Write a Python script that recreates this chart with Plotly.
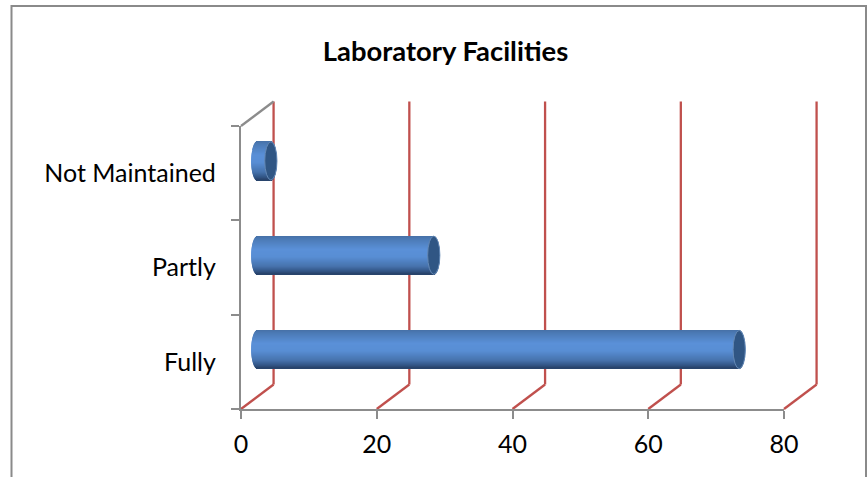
import math
import plotly.graph_objects as go

categories = ["Fully", "Partly", "Not Maintained"]
values = [71, 26, 2]
x_ticks = [0, 20, 40, 60, 80]
title_text = "Laboratory Facilities"

W, H = 868, 477
L, R, T, B = 241, 784, 126, 409
FONT = "Lato"
RED = "#C0504D"
GRAY = "#8C8C8C"

DX = 4.8      # depth of the 3-D box in x units
DY = 0.26     # depth of the 3-D box in category units
BAR_H = 0.405
CAP_A = 0.9   # half width of the elliptical cap in x units
N = 38        # colour bands per cylinder
STOPS = [(0.0, (70, 112, 166)), (0.06, (74, 120, 178)), (0.35, (90, 144, 216)),
         (0.55, (88, 142, 212)), (0.8, (70, 114, 172)), (0.93, (50, 84, 132)),
         (1.0, (38, 64, 102))]
X_MAX = x_ticks[-1]
Y_MIN, Y_MAX = -0.5, 2.5


def band_colour(t):
    for (a, ca), (b, cb) in zip(STOPS, STOPS[1:]):
        if t <= b:
            f = (t - a) / (b - a)
            return "rgb(%d,%d,%d)" % tuple(round(p + (q - p) * f) for p, q in zip(ca, cb))
    return "rgb(%d,%d,%d)" % STOPS[-1][1]


def px(x):   # axis value to paper fraction, so the 3-D walls may leave the plot area
    return x / X_MAX


def py(y):
    return (y - Y_MIN) / (Y_MAX - Y_MIN)


def wall(x0, y0, x1, y1, colour):
    return dict(type="line", xref="paper", yref="paper", layer="below",
                x0=px(x0), y0=py(y0), x1=px(x1), y1=py(y1),
                line=dict(color=colour, width=2.3))


fig = go.Figure()
shapes = []

# back wall gridlines with their floor diagonals
for t in x_ticks:
    shapes.append(wall(t, Y_MIN, t + DX, Y_MIN + DY, RED))
    shapes.append(wall(t + DX, Y_MIN + DY, t + DX, Y_MAX + DY, RED))
# left wall top diagonal
shapes.append(wall(0, Y_MAX, DX, Y_MAX + DY, GRAY))

# cylinders as stacked colour bands
centre = DY / 2
for k in range(N):
    t = (k + 0.5) / N
    u = 2 * t - 1
    bulge = CAP_A * math.sqrt(max(0, 1 - u * u))
    top = centre + BAR_H / 2 - k * BAR_H / N
    fig.add_trace(go.Bar(
        y=categories, x=[v + 2 * bulge for v in values],
        base=[DX / 2 - bulge] * 3,
        orientation="h", width=BAR_H / N * 1.3, offset=top - BAR_H / N * 1.15,
        marker=dict(color=band_colour(t), line=dict(width=0)),
        showlegend=False, hoverinfo="skip"))

for i, v in enumerate(values):
    cx = v + DX / 2
    shapes.append(dict(type="circle", xref="x", yref="y", layer="above",
                       x0=cx - CAP_A, x1=cx + CAP_A,
                       y0=i + centre - BAR_H / 2, y1=i + centre + BAR_H / 2,
                       fillcolor="#305684", line=dict(color="#6488B4", width=1)))
# outer frame of the picture
fx0 = (11.5 - L) / (R - L)
fx1 = (866 - L) / (R - L)
fy1 = (B - 6) / (B - T)
fy0 = (B - 490) / (B - T)
shapes.append(dict(type="rect", xref="paper", yref="paper", layer="below",
                   x0=fx0, x1=fx1, y0=fy0, y1=fy1, line=dict(color="#8A8A8A", width=2)))

fig.update_layout(
    width=W, height=H, barmode="overlay", paper_bgcolor="white", plot_bgcolor="rgba(0,0,0,0)",
    margin=dict(l=L, r=W - R, t=T, b=H - B, pad=0),
    shapes=shapes,
    title=dict(text=title_text, x=445.5 / W, xref="container", xanchor="center",
               y=1 - 51 / H, yref="container", yanchor="middle",
               font=dict(family=FONT, size=27.4, color="black", weight="bold")),
    xaxis=dict(range=[0, X_MAX], tickvals=x_ticks, showgrid=False, zeroline=False,
               showline=True, linecolor=GRAY, linewidth=2.3, ticks="outside", ticklen=8,
               tickwidth=2, tickcolor=GRAY, ticklabelstandoff=4,
               tickfont=dict(family=FONT, size=25, color="black")),
    yaxis=dict(type="category", categoryorder="array", categoryarray=categories,
               range=[Y_MIN, Y_MAX], tickson="boundaries", showgrid=False, zeroline=False,
               showline=True, linecolor=GRAY, linewidth=2.3, ticks="outside", ticklen=8,
               tickwidth=2, tickcolor=GRAY, ticklabelstandoff=18,
               tickfont=dict(family=FONT, size=25, color="black")),
)

fig.write_html("out.html", config=dict(displayModeBar=False),
               post_script="document.body.style.margin='0';")
